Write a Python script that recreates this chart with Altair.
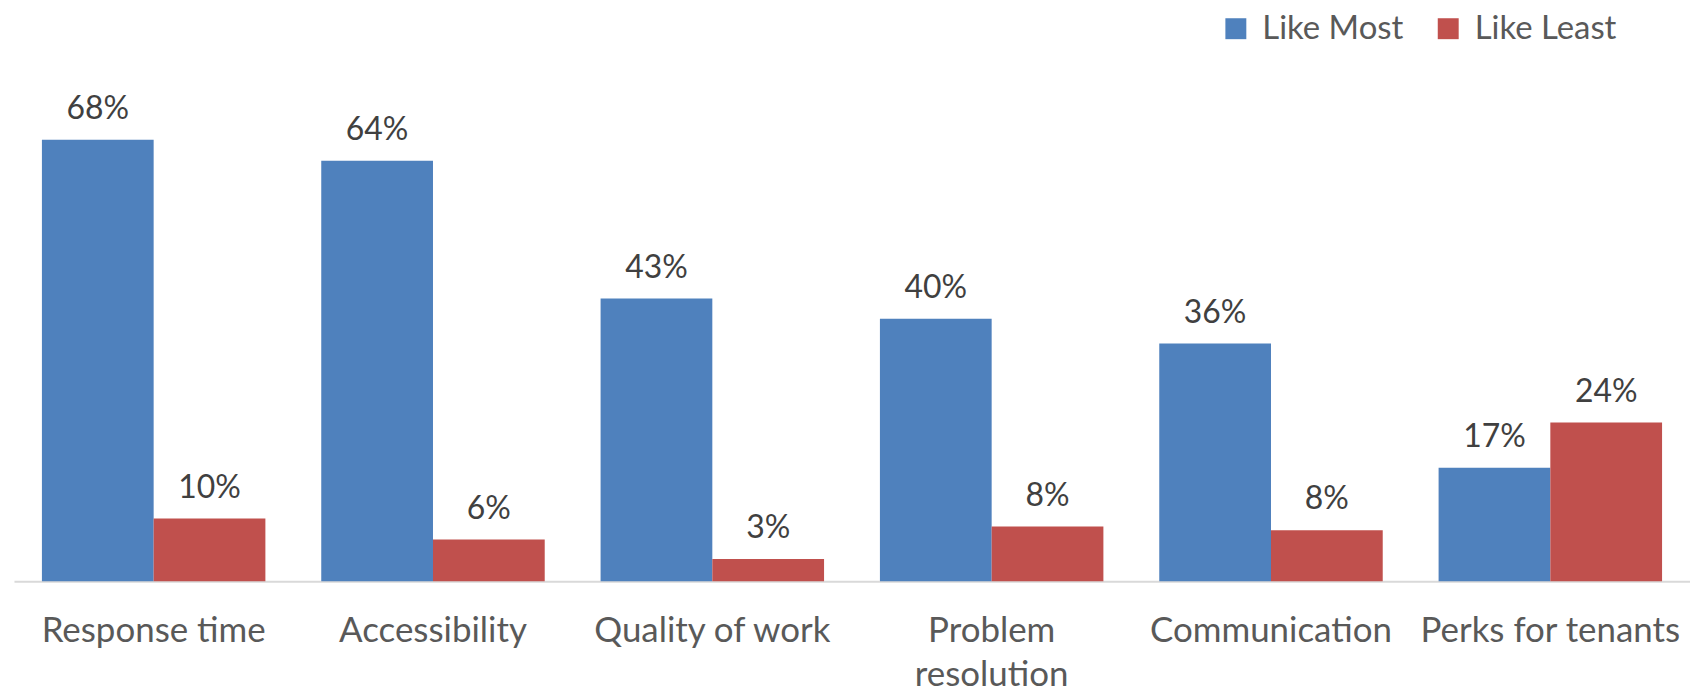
import altair as alt
import pandas as pd

categories = ["Response time", "Accessibility", "Quality of work",
              "Problem resolution", "Communication", "Perks for tenants"]
series = ["Like Most", "Like Least"]
like_most = [0.676, 0.644, 0.433, 0.402, 0.364, 0.174]
like_least = [0.096, 0.064, 0.034, 0.084, 0.078, 0.243]
colors = ["#4F81BD", "#C0504D"]

rows = []
for c, m, l in zip(categories, like_most, like_least):
    rows.append({"category": c, "series": series[0], "value": m})
    rows.append({"category": c, "series": series[1], "value": l})
df = pd.DataFrame(rows)

FONT = "Lato"

x = alt.X("category:N", sort=categories, title=None,
          scale=alt.Scale(paddingInner=0.2, paddingOuter=0.1),
          axis=alt.Axis(
              labelAngle=0, ticks=False, tickSize=0, grid=False,
              domainColor="#D9D9D9", domainWidth=2,
              labelColor="#595959", labelFontSize=35, labelFont=FONT,
              labelPadding=32, labelBaseline="top", labelLimit=0,
              labelLineHeight=45,
              labelExpr="datum.value == 'Problem resolution' ? ['Problem', 'resolution'] : datum.value"))
xo = alt.XOffset("series:N", sort=series,
                 scale=alt.Scale(paddingInner=0, paddingOuter=0))
y = alt.Y("value:Q", scale=alt.Scale(domain=[0, 0.8]), axis=None)

bars = alt.Chart(df).mark_bar().encode(
    x=x, xOffset=xo, y=y,
    color=alt.Color("series:N", sort=series,
                    scale=alt.Scale(domain=series, range=colors),
                    legend=alt.Legend(
                        title=None, orient="none", direction="horizontal",
                        legendX=1209, legendY=-47, padding=0,
                        symbolType="square", symbolSize=441,
                        symbolStrokeWidth=0, labelFontSize=33,
                        labelFont=FONT, labelColor="#595959",
                        labelOffset=10, columnPadding=28, labelLimit=0)),
)

labels = alt.Chart(df).mark_text(
    baseline="alphabetic", align="center", dy=-21,
    fontSize=32, font=FONT, color="#404040"
).encode(
    x=x, xOffset=xo, y=y,
    text=alt.Text("value:Q", format=".0%"),
)

chart = (bars + labels).properties(
    width=1681, height=524,
    padding={"left": 6, "top": 50, "right": 0, "bottom": 110},
    autosize=alt.AutoSizeParams(type="none"),
).configure_view(stroke=None)

chart.save("out.html", embed_options={"renderer": "svg", "actions": False})
